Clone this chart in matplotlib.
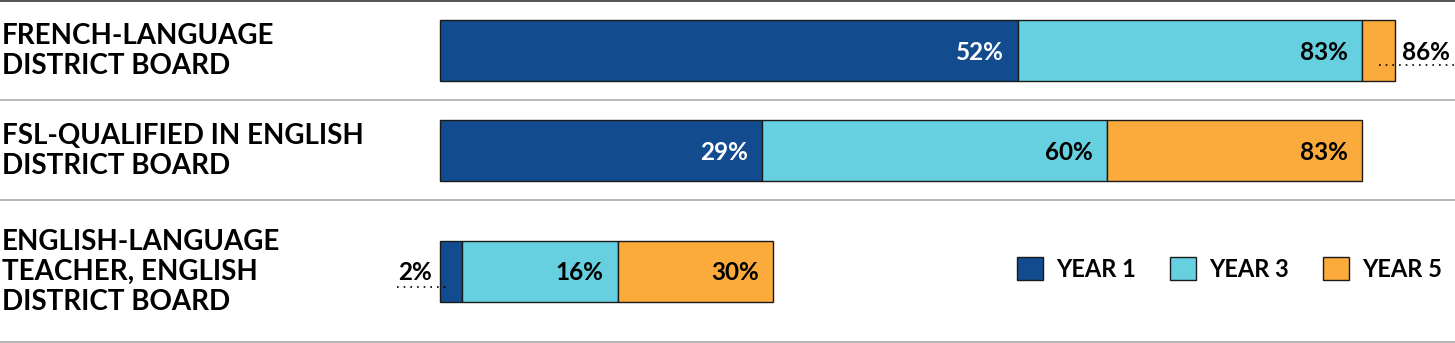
import matplotlib.pyplot as plt

# data: cumulative share at each year
categories = ["FRENCH-LANGUAGE\nDISTRICT BOARD",
              "FSL-QUALIFIED IN ENGLISH\nDISTRICT BOARD",
              "ENGLISH-LANGUAGE\nTEACHER, ENGLISH\nDISTRICT BOARD"]
year1 = [52, 29, 2]
year3 = [83, 60, 16]
year5 = [86, 83, 30]
series_names = ["YEAR 1", "YEAR 3", "YEAR 5"]

colors = ["#124c8f", "#66d0e0", "#fbaa3c"]
text_colors = ["white", "black", "black"]

plt.rcParams['font.family'] = ['Lato', 'DejaVu Sans']

W, H = 1455, 343
px = 11.11  # pixels per percent
x0 = 440    # pixel where 0% sits

fig = plt.figure(figsize=(W / 100, H / 100), dpi=100)
ax = fig.add_axes([0, 0, 1, 1])
ax.set_xlim(-x0 / px, (W - x0) / px)
ax.set_ylim(H, 0)
ax.axis("off")

ypos = [50, 150, 271]
bar_h = 61
vfs = 17.5  # value label size

# row separators
ax.axhline(0.8, color="#444444", lw=1.3)
for yy in [100, 200, 342]:
    ax.axhline(yy, color="#aaaaaa", lw=1.2)

series = [year1, year3, year5]
for i, vals in enumerate(series):
    lefts = [0] * 3 if i == 0 else series[i - 1]
    widths = [v - l for v, l in zip(vals, lefts)]
    ax.barh(ypos, widths, left=lefts, height=bar_h, color=colors[i],
            edgecolor="#1a1a1a", linewidth=1, label=series_names[i])
    for y, v, l, w in zip(ypos, vals, lefts, widths):
        lab = f"{v}%"
        if w * px >= 60:
            ax.text(v - 14 / px, y + 2, lab, ha="right", va="center",
                    fontsize=vfs, fontweight="bold", color=text_colors[i])
        elif i == 0:
            # tiny first segment: label on the left with dotted leader
            ax.text(-8 / px, y + 2, lab, ha="right", va="center",
                    fontsize=vfs, fontweight="bold", color="black")
            ax.plot([-43 / px, (l + v) / 2 - 0.5], [y + 16, y + 16],
                    ls=(0, (1, 3)), color="black", lw=1.2)
        else:
            # tiny last segment: label on the right with dotted leader
            ax.text(v + 7 / px, y + 2, lab, ha="left", va="center",
                    fontsize=vfs, fontweight="bold", color="black")
            ax.plot([(l + v) / 2, (W - x0) / px], [y + 15, y + 15],
                    ls=(0, (1, 3)), color="black", lw=1.2)

# category labels
tr = ax.get_yaxis_transform()
for y, c in zip(ypos, categories):
    ax.text(2 / W, y + 1, c, transform=tr, ha="left", va="center",
            fontsize=20, fontweight="bold", linespacing=1.2)

ax.legend(loc="center left", bbox_to_anchor=(996 / W, 1 - 269 / H),
          ncol=3, frameon=False, handlelength=1.1,
          handleheight=1.1, handletextpad=0.55, columnspacing=1.45,
          prop={"weight": "bold", "size": 17})

fig.savefig("out.png", dpi=100)
